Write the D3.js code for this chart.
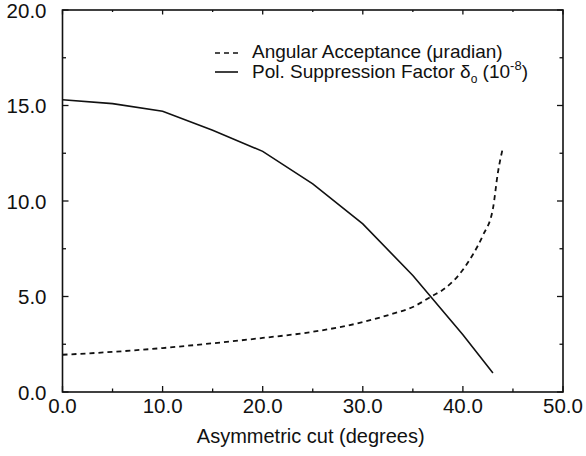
<!DOCTYPE html>
<html>
<head>
<meta charset="utf-8">
<script src="https://cdn.jsdelivr.net/npm/d3@7"></script>
<style>
  body { margin: 0; background: #fff; }
  svg text { font-family: "Liberation Sans", Arial, sans-serif; fill: #111; }
</style>
</head>
<body>
<svg id="chart" width="586" height="456"></svg>
<script>
// angular acceptance (dashed)
var accCut = [0, 5, 10, 15, 20, 25, 30, 33, 35, 37, 38, 40, 41, 42, 43, 43.5, 44];
var accVal = [1.95, 2.1, 2.3, 2.55, 2.83, 3.15, 3.66, 4.1, 4.45, 5.05, 5.35, 6.4, 7.2, 8.2, 9.6, 11.5, 12.8];

// polarization suppression factor (solid)
var polCut = [0, 5, 10, 15, 20, 25, 30, 35, 40, 43];
var polVal = [15.3, 15.1, 14.7, 13.7, 12.6, 10.9, 8.8, 6.1, 3.0, 1.0];

var xTicks = [0, 10, 20, 30, 40, 50];
var yTicks = [0, 5, 10, 15, 20];

var margin = {top: 10, right: 23, bottom: 64, left: 62.5},
    width = 586 - margin.left - margin.right,
    height = 456 - margin.top - margin.bottom;

var svg = d3.select("#chart")
    .append("g")
    .attr("transform", "translate(" + margin.left + "," + margin.top + ")");

var x = d3.scaleLinear().domain([0, 50]).range([0, width]);
var y = d3.scaleLinear().domain([0, 20]).range([height, 0]);

var fmt = d3.format(".1f");
var minorX = d3.range(0, 50.1, 5);
var minorY = d3.range(0, 20.1, 2.5);

// frame
svg.append("rect")
    .attr("width", width)
    .attr("height", height)
    .style("fill", "none")
    .style("stroke", "#111")
    .style("stroke-width", 1.6);

// ticks on all four sides, pointing in
function tickLen(v, step) { return (v % step === 0) ? 6 : 3.5; }

var t = svg.append("g").style("stroke", "#111").style("stroke-width", 1.3);
minorX.forEach(function(v) {
    var l = tickLen(v, 10);
    t.append("line").attr("x1", x(v)).attr("x2", x(v)).attr("y1", height).attr("y2", height - l);
    t.append("line").attr("x1", x(v)).attr("x2", x(v)).attr("y1", 0).attr("y2", l - 1.5);
});
minorY.forEach(function(v) {
    var l = tickLen(v, 5);
    t.append("line").attr("y1", y(v)).attr("y2", y(v)).attr("x1", 0).attr("x2", l);
    t.append("line").attr("y1", y(v)).attr("y2", y(v)).attr("x1", width).attr("x2", width - l);
});

// tick labels
svg.selectAll(".xl").data(xTicks).enter().append("text")
    .attr("x", function(d) { return x(d); })
    .attr("y", height + 21)
    .attr("text-anchor", "middle")
    .style("font-size", "20.5px")
    .text(fmt);

svg.selectAll(".yl").data(yTicks).enter().append("text")
    .attr("x", -16)
    .attr("y", function(d) { return y(d) + 7.5; })
    .attr("text-anchor", "end")
    .style("font-size", "20.5px")
    .text(fmt);

// axis title
svg.append("text")
    .attr("x", x(24.8))
    .attr("y", height + 51)
    .attr("text-anchor", "middle")
    .style("font-size", "20px")
    .text("Asymmetric cut (degrees)");

// curves
var accLine = d3.line()
    .x(function(d, i) { return x(accCut[i]); })
    .y(function(d) { return y(d); })
    .curve(d3.curveMonotoneX);
var polLine = d3.line()
    .x(function(d, i) { return x(polCut[i]); })
    .y(function(d) { return y(d); });

svg.append("path")
    .datum(accVal)
    .attr("d", accLine)
    .style("fill", "none")
    .style("stroke", "#111")
    .style("stroke-width", 1.8)
    .style("stroke-dasharray", "5,4");

svg.append("path")
    .datum(polVal)
    .attr("d", polLine)
    .style("fill", "none")
    .style("stroke", "#111")
    .style("stroke-width", 1.6);

// legend
var lg = svg.append("g").attr("transform", "translate(" + (215 - margin.left) + ",0)");
lg.append("line")
    .attr("x1", 0).attr("x2", 23).attr("y1", 43).attr("y2", 43)
    .style("stroke", "#111").style("stroke-width", 1.6).style("stroke-dasharray", "5,4");
lg.append("line")
    .attr("x1", 0).attr("x2", 23).attr("y1", 62).attr("y2", 62)
    .style("stroke", "#111").style("stroke-width", 1.6);

lg.append("text")
    .attr("x", 37).attr("y", 48)
    .style("font-size", "19px")
    .text("Angular Acceptance (\u03bcradian)");

var t2 = lg.append("text")
    .attr("x", 37).attr("y", 68)
    .style("font-size", "19px");
t2.append("tspan").text("Pol. Suppression Factor \u03b4");
t2.append("tspan").attr("dy", 5).style("font-size", "12px").text("o");
t2.append("tspan").attr("dy", -5).text(" (10");
t2.append("tspan").attr("dy", -8).style("font-size", "13px").text("-8");
t2.append("tspan").attr("dy", 8).text(")");
</script>
</body>
</html>
